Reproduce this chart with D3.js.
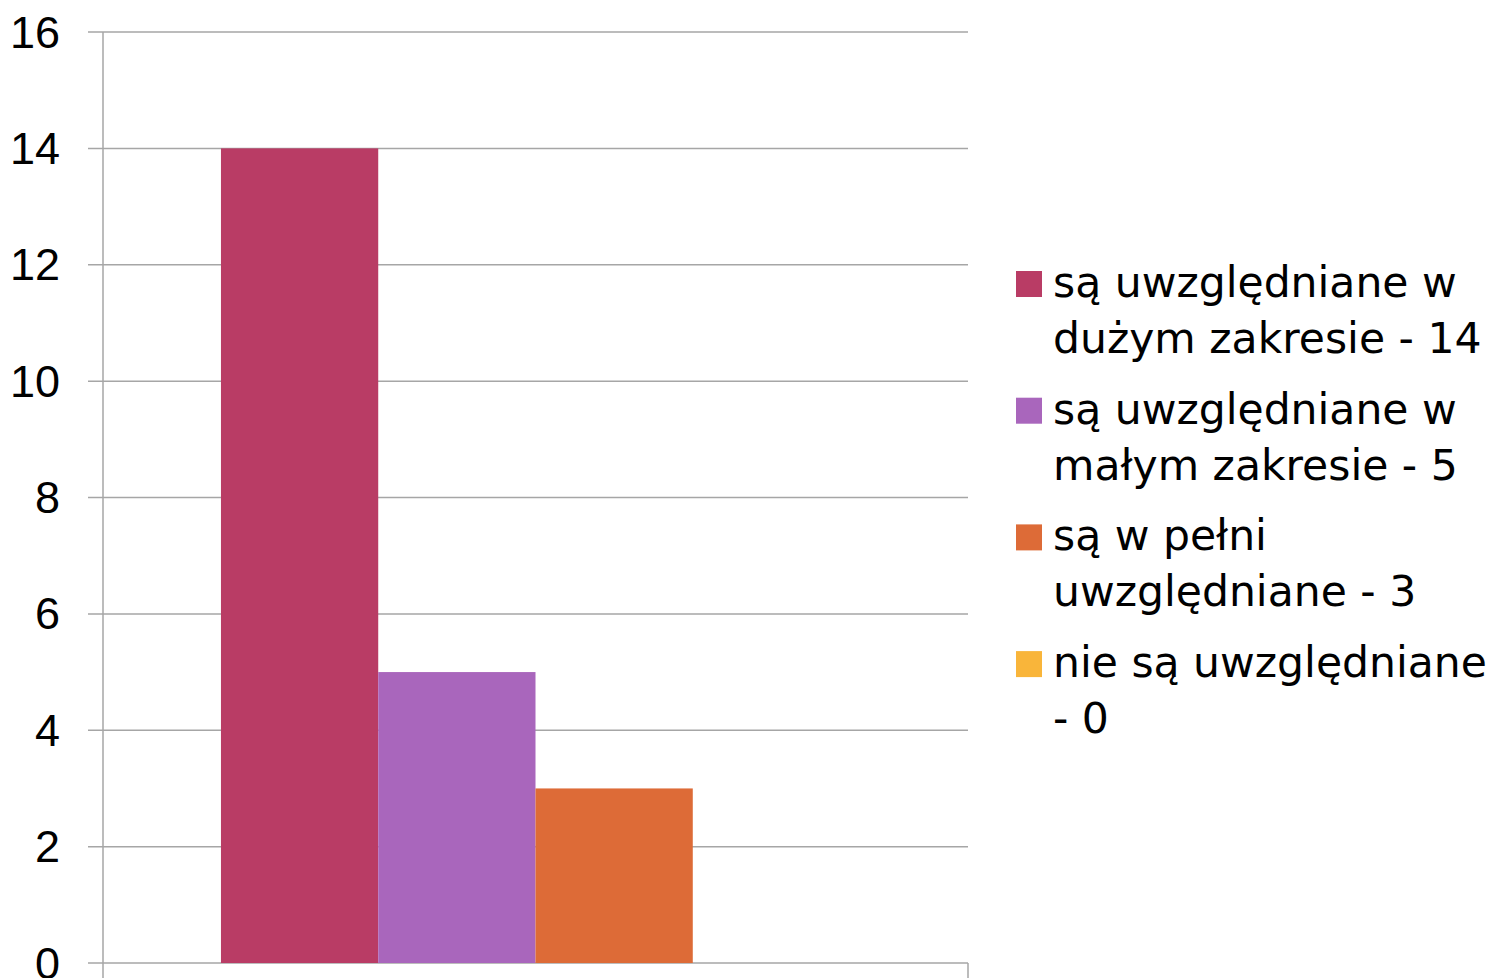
<!DOCTYPE html>
<html>
<head>
<meta charset="utf-8">
<script src="https://cdn.jsdelivr.net/npm/d3@7"></script>
<style>
  html, body { margin: 0; padding: 0; background: #fff; }
  svg { display: block; }
</style>
</head>
<body>
<svg id="chart" width="1495" height="978"></svg>
<script>
// ---- data ----
const categories = ["Seria"];
const seriesNames = [
  ["są uwzględniane w", "dużym zakresie - 14"],
  ["są uwzględniane w", "małym zakresie - 5"],
  ["są w pełni", "uwzględniane - 3"],
  ["nie są uwzględniane", "- 0"]
];
const seriesValues = [14, 5, 3, 0];
const seriesColors = ["#B93C65", "#A966BC", "#DD6B37", "#F9B53A"];
const yTicks = [0, 2, 4, 6, 8, 10, 12, 14, 16];

// ---- layout ----
const svg = d3.select("#chart");
const plot = { left: 103, right: 968, top: 32, bottom: 963 };

const y = d3.scaleLinear().domain([0, 16]).range([plot.bottom, plot.top]);
const x0 = d3.scaleBand().domain(categories).range([plot.left, plot.right])
  .paddingInner(0).paddingOuter(0.1875);
const x1 = d3.scaleBand().domain(d3.range(seriesValues.length))
  .range([0, x0.bandwidth()]).padding(0);

const gridColor = "#a6a6a6";

// gridlines + y tick marks
svg.append("g").selectAll("line").data(yTicks).join("line")
  .attr("x1", plot.left - 15).attr("x2", plot.right)
  .attr("y1", d => y(d)).attr("y2", d => y(d))
  .attr("stroke", gridColor).attr("stroke-width", 1.5);

// y axis line
svg.append("line")
  .attr("x1", plot.left).attr("x2", plot.left)
  .attr("y1", plot.top).attr("y2", plot.bottom + 15)
  .attr("stroke", gridColor).attr("stroke-width", 1.5);
// right category tick
svg.append("line")
  .attr("x1", plot.right).attr("x2", plot.right)
  .attr("y1", plot.bottom).attr("y2", plot.bottom + 15)
  .attr("stroke", gridColor).attr("stroke-width", 1.5);

// y tick labels
svg.append("g").selectAll("text").data(yTicks).join("text")
  .attr("x", 60).attr("y", d => y(d))
  .attr("text-anchor", "end").attr("dominant-baseline", "central")
  .attr("font-family", "'Liberation Sans', Arial, sans-serif")
  .attr("font-size", 45).attr("fill", "#000")
  .text(d => d);

// bars
const g = svg.append("g").attr("transform", `translate(${x0(categories[0])},0)`);
g.selectAll("rect").data(seriesValues).join("rect")
  .attr("x", (d, i) => x1(i))
  .attr("width", x1.bandwidth())
  .attr("y", d => y(d))
  .attr("height", d => y(0) - y(d))
  .attr("fill", (d, i) => seriesColors[i]);

// legend
const legend = svg.append("g");
const entryStep = 126.7;
const items = legend.selectAll("g").data(seriesNames).join("g")
  .attr("transform", (d, i) => `translate(1016, ${271 + i * entryStep})`);
items.append("rect")
  .attr("x", 0).attr("y", 0).attr("width", 26).attr("height", 26)
  .attr("fill", (d, i) => seriesColors[i]);
items.each(function(lines) {
  const t = d3.select(this).append("text")
    .attr("font-family", "'DejaVu Sans', sans-serif")
    .attr("font-size", 42.5).attr("fill", "#000");
  lines.forEach((ln, j) => {
    t.append("tspan").attr("x", 37).attr("y", 26 + j * 56).text(ln);
  });
});
</script>
</body>
</html>
